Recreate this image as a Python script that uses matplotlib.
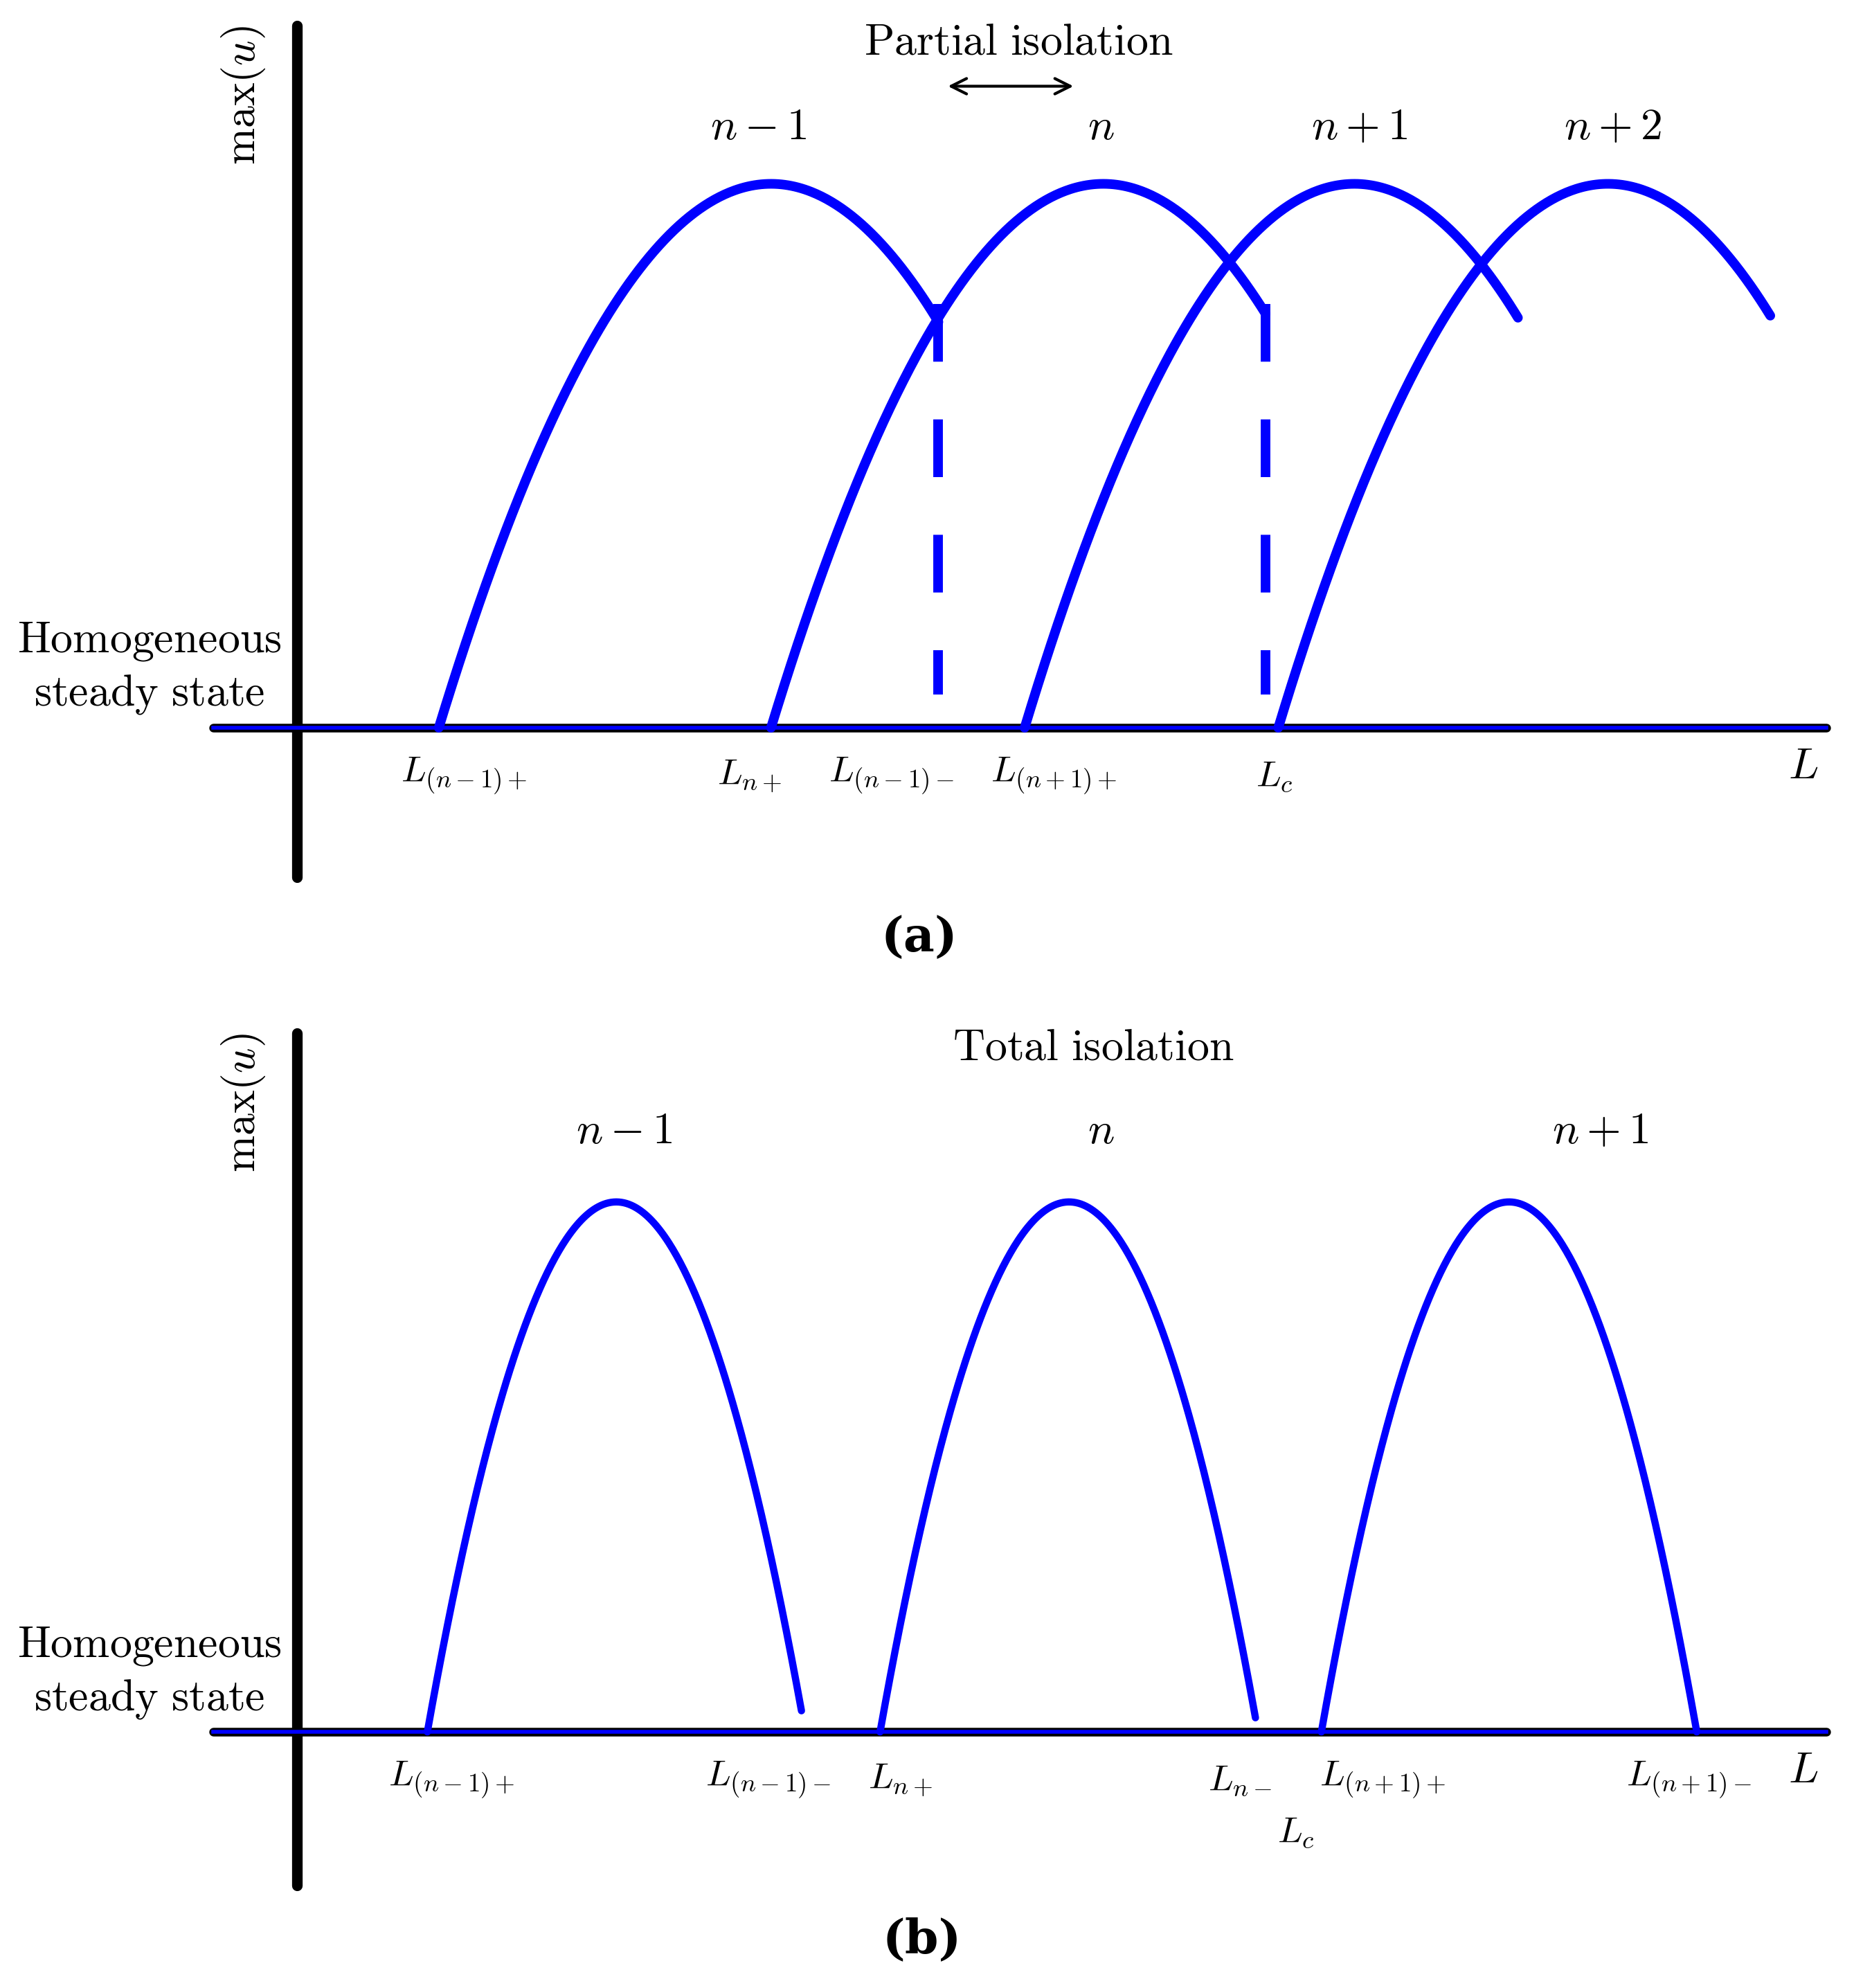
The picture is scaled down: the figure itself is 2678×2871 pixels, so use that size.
import numpy as np
import matplotlib
matplotlib.use("Agg")
import matplotlib.pyplot as plt

plt.rcParams['mathtext.fontset'] = 'cm'

# Panel (a): partial isolation branches (start, peak, end positions in L; peak height)
a_starts = [346, 608, 808, 1008]
a_peaks = [608, 870, 1068, 1268]
a_ends = [740, 998, 1197, 1396]
a_height = 429
a_names = [r'$n-1$', r'$n$', r'$n+1$', r'$n+2$']
a_name_x = [598, 868, 1072, 1272]
a_dash_x = [740, 998]
a_ticks = [366, 591, 703, 831, 1005]
a_ticklabels = [r'$L_{(n-1)+}$', r'$L_{n+}$', r'$L_{(n-1)-}$', r'$L_{(n+1)+}$', r'$L_c$']

# Panel (b): total isolation branches
b_starts = [337, 694, 1042]
b_peaks = [486, 843, 1190]
b_ends = [632, 990, 1338]
b_height = 418
b_names = [r'$n-1$', r'$n$', r'$n+1$']
b_name_x = [492, 868, 1262]
b_ticks = [356, 606, 710, 978, 1090, 1332]
b_ticklabels = [r'$L_{(n-1)+}$', r'$L_{(n-1)-}$', r'$L_{n+}$', r'$L_{n-}$',
                r'$L_{(n+1)+}$', r'$L_{(n+1)-}$']

W, H = 1462, 1568
fig = plt.figure(figsize=(26.78, 28.71), dpi=100)
ax = fig.add_axes([0, 0, 1, 1])
ax.set_xlim(0, W)
ax.set_ylim(H, 0)
ax.axis('off')
blue = '#0000ff'
fs = 46
tfs = 38

def panel(base, top, bottom, starts, peaks, ends, h, names, name_x, name_off,
          ticks, labels, lw):
    ax.plot([234, 234], [top, bottom], color='k', lw=11, solid_capstyle='round')
    ax.plot([168, 1440], [base, base], color='k', lw=9, solid_capstyle='round')
    ax.plot([168, 1440], [base, base], color=blue, lw=4)
    for s, p, e in zip(starts, peaks, ends):
        x = np.linspace(s, e, 300)
        w = p - s
        y = h * (1 - ((x - p) / w) ** 2)
        ax.plot(x, base - y, color=blue, lw=lw, solid_capstyle='round')
    for nx, nm in zip(name_x, names):
        ax.text(nx, base - h - name_off, nm, fontsize=fs, ha='center', va='center')
    for t, lab in zip(ticks, labels):
        ax.text(t, base + 38, lab, fontsize=tfs, ha='center', va='center')
    ax.text(1422, base + 30, r'$L$', fontsize=fs, ha='center', va='center')
    ax.text(192, top + 55, r'$\mathrm{max}(u)$', fontsize=fs, rotation=90,
            ha='center', va='center')
    ax.text(118, base - 68, r'$\mathrm{Homogeneous}$', fontsize=fs, ha='center', va='center')
    ax.text(118, base - 26, r'$\mathrm{steady\ state}$', fontsize=fs, ha='center', va='center')

panel(574, 20, 692, a_starts, a_peaks, a_ends, a_height, a_names, a_name_x, 45,
      a_ticks, a_ticklabels, 10)
for xd in a_dash_x:
    ax.plot([xd, xd], [240, 548], color=blue, lw=10, linestyle=(0, (6, 6)), solid_capstyle='butt')
ax.text(803, 33, r'$\mathrm{Partial\ isolation}$', fontsize=fs, ha='center', va='center')
ax.annotate('', xy=(746, 68), xytext=(848, 68),
            arrowprops=dict(arrowstyle='<->', lw=3, color='k', mutation_scale=40))
ax.text(725, 740, '(a)', fontsize=50, fontweight='bold', family='DejaVu Serif',
        ha='center', va='center')

panel(1366, 815, 1487, b_starts, b_peaks, b_ends, b_height, b_names, b_name_x, 56,
      b_ticks, b_ticklabels, 7.5)
ax.text(1022, 1445, r'$L_c$', fontsize=tfs, ha='center', va='center')
ax.text(862, 826, r'$\mathrm{Total\ isolation}$', fontsize=fs, ha='center', va='center')
ax.text(727, 1530, '(b)', fontsize=50, fontweight='bold', family='DejaVu Serif',
        ha='center', va='center')

fig.savefig('out.png', dpi=100)
